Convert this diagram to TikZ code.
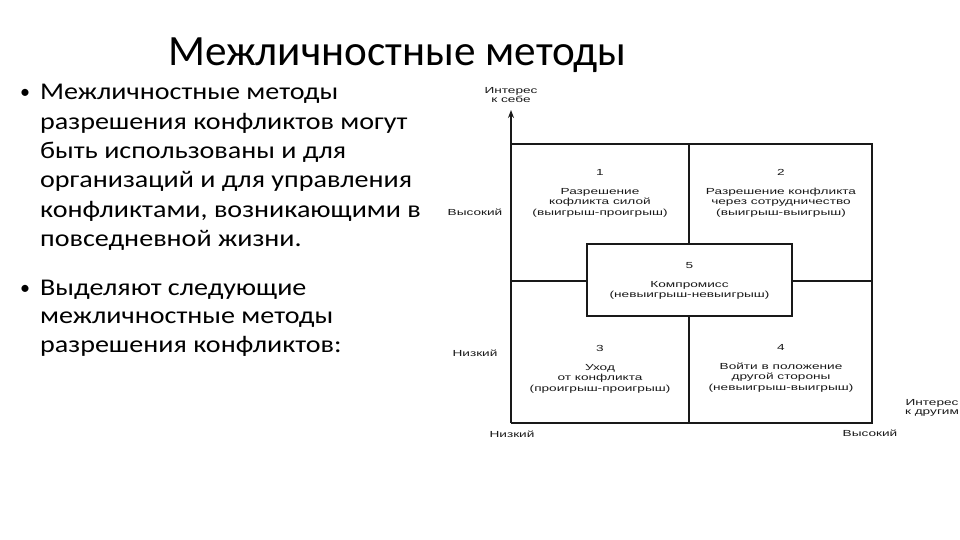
\documentclass[tikz,border=0pt]{standalone}
\usepackage{fontspec}
\setmainfont{Carlito}
\newfontfamily\bodyfont[FakeStretch=1.17]{Carlito}
\newfontfamily\lab[FakeStretch=1.55]{Liberation Sans}
\usetikzlibrary{arrows.meta}
\tikzset{
  body/.style={anchor=base west, inner sep=0pt, font=\bodyfont\fontsize{24}{28}\selectfont},
  bul/.style={anchor=base west, inner sep=0pt, font=\fontsize{20}{24}\selectfont},
  lbl/.style={inner sep=0pt, align=center, font=\lab\fontsize{8.8}{10.3}\selectfont, text=black!90},
  gridline/.style={line width=1.3pt, draw=black!90},
}
\begin{document}
\begin{tikzpicture}[x=1pt,y=-1pt]
\useasboundingbox (0,0) rectangle (960,540);
% title
\node[anchor=base west, inner sep=0pt, font=\fontsize{43.2}{50}\selectfont] (title) at (168,66) {Межличностные методы};
% bullets
\node[bul] (b1) at (20,99) {•};
\node[body] (p1a) at (40,100) {Межличностные методы};
\node[body] (p1b) at (40,129.3) {разрешения конфликтов могут};
\node[body] (p1c) at (40,158.6) {быть использованы и для};
\node[body] (p1d) at (40,187.9) {организаций и для управления};
\node[body] (p1e) at (40,217.2) {конфликтами, возникающими в};
\node[body] (p1f) at (40,246.5) {повседневной жизни.};
\node[bul] (b2) at (20,294) {•};
\node[body] (p2a) at (40,295) {Выделяют следующие};
\node[body] (p2b) at (40,323.5) {межличностные методы};
\node[body] (p2c) at (40,352) {разрешения конфликтов:};
% diagram
\coordinate (org) at (511,423);
\coordinate (ytop) at (511,110);
\draw[gridline, -{Stealth[length=8pt,width=6pt]}] (org) -- (ytop);
\draw[gridline] (511,144) -- (872,144) -- (872,423) -- (org);
\draw[gridline] (689,144) -- (689,423);
\draw[gridline] (511,281) -- (872,281);
\node[draw=black!90, line width=1.3pt, fill=white, minimum width=205pt, minimum height=72pt, inner sep=0pt] (q5) at (689.5,280) {};
\node[lbl] (q5t) at (689.5,281) {5\\[8pt]Компромисс\\(невыигрыш-невыигрыш)};
\node[lbl] (q1) at (600,193) {1\\[9pt]Разрешение\\кофликта силой\\(выигрыш-проигрыш)};
\node[lbl] (q2) at (781,193) {2\\[9pt]Разрешение конфликта\\через сотрудничество\\(выигрыш-выигрыш)};
\node[lbl] (q3) at (600,369) {3\\[9pt]Уход\\от конфликта\\(проигрыш-проигрыш)};
\node[lbl] (q4) at (781,368) {4\\[9pt]Войти в положение\\другой стороны\\(невыигрыш-выигрыш)};
% axis labels
\node[lbl, font=\lab\fontsize{8.8}{9}\selectfont] (ylab) at (511,95) {Интерес\\к себе};
\node[lbl] (yhigh) at (475,212) {Высокий};
\node[lbl] (ylow) at (475,353) {Низкий};
\node[lbl] (xlow) at (512,434) {Низкий};
\node[lbl] (xhigh) at (870,433) {Высокий};
\node[lbl, font=\lab\fontsize{8.8}{9}\selectfont] (xlab) at (932,408) {Интерес\\к другим};
\end{tikzpicture}
\end{document}
